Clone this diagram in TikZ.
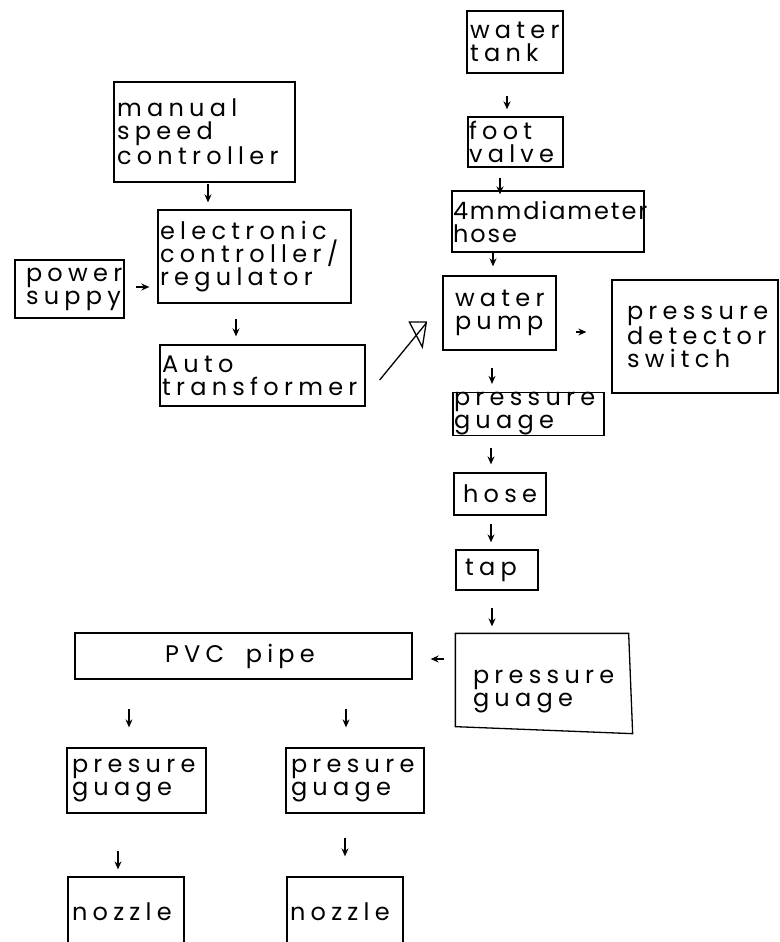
\documentclass[tikz,border=0pt]{standalone}
\usepackage{fontspec}
\newfontfamily\handfont[LetterSpace=22]{Poppins}
\usetikzlibrary{arrows.meta}
\hyphenpenalty=10000
\exhyphenpenalty=10000
\tikzset{
  blk/.style={draw, line width=1.3pt, rectangle, align=left, inner ysep=0pt,
    font=\handfont\fontsize{24}{23}\selectfont},
  arr/.style={line width=1.2pt, -{Stealth[length=8pt,width=7pt]}},
}
\begin{document}
\begin{tikzpicture}[x=1pt, y=-1pt]
  \useasboundingbox (0,0) rectangle (779,942);
  \fill[white] (0,0) rectangle (779,942);

  % supply side
  \node[blk, minimum width=181pt, minimum height=100pt, inner xsep=3pt, text width=175pt] (msc) at (204.5,132) {manual\\speed\\controller};
  \node[blk, minimum width=193pt, minimum height=93pt, inner xsep=2pt, text width=189pt] (ec) at (254.5,256.5) {electronic\\controller/\\regulator};
  \node[blk, minimum width=109pt, minimum height=58pt, inner xsep=11pt, text width=87pt] (ps) at (69.5,289) {power\\suppy};
  \node[blk, minimum width=205pt, minimum height=61pt, inner xsep=2pt, text width=201pt] (at) at (262.5,375.5) {Auto\\transformer};

  % water line
  \node[blk, minimum width=96pt, minimum height=62pt, inner xsep=3pt, text width=90pt] (tank) at (515,42) {water\\tank};
  \node[blk, minimum width=95pt, minimum height=50pt, inner xsep=1pt, text width=93pt] (fv) at (515.5,142) {foot\\valve};
  \node[blk, minimum width=192pt, minimum height=61pt, inner xsep=1pt, text width=190pt] (hd) at (548,221.5) {\addfontfeature{LetterSpace=8}4mmdiameter\\hose};
  \node[blk, minimum width=113pt, minimum height=74pt, inner xsep=12pt, text width=89pt] (pump) at (499.5,313) {water\\pump};
  \node[blk, minimum width=166pt, minimum height=113pt, inner xsep=15pt, text width=136pt] (pds) at (695,336.5) {pressure\\detector\\switch};
  \node[blk, minimum width=151pt, minimum height=42pt, inner xsep=1pt, text width=149pt] (pg) at (528.5,414) {pressure\\guage};
  \node[blk, minimum width=92pt, minimum height=42pt, inner xsep=9pt, text width=74pt] (hose) at (500,494) {hose};
  \node[blk, minimum width=82pt, minimum height=40pt, inner xsep=9pt, text width=64pt] (tap) at (497,570) {tap};
  \node[blk, draw=none, minimum width=176pt, minimum height=99pt, inner xsep=17pt, text width=142pt] (pgb) at (544,691.5) {pressure\\guage};
  \draw[line width=1.3pt] ([yshift=8pt]pgb.north west) -- ([xshift=-4pt,yshift=8pt]pgb.north east)
    -- ([yshift=8pt]pgb.south east) -- ([yshift=15pt]pgb.south west) -- cycle;

  % outlets
  \node[blk, minimum width=337pt, minimum height=46pt, inner xsep=90pt, text width=157pt] (pvc) at (243.5,656) {PVC\hspace{0.9em}pipe};
  \node[blk, minimum width=139pt, minimum height=65pt, inner xsep=5pt, text width=129pt] (pgl) at (136.5,780.5) {presure\\guage};
  \node[blk, minimum width=138pt, minimum height=65pt, inner xsep=5pt, text width=128pt] (pgr) at (355,780.5) {presure\\guage};
  \node[blk, minimum width=116pt, minimum height=70pt, inner xsep=4pt, text width=108pt] (nozl) at (126,912) {nozzle};
  \node[blk, minimum width=116pt, minimum height=70pt, inner xsep=3pt, text width=110pt] (nozr) at (345,912) {nozzle};

  \draw[arr] ([xshift=3.5pt,yshift=-1pt]msc.south) -- ([xshift=-46.5pt,yshift=7pt]ec.north);
  \draw[arr] ([xshift=11pt,yshift=2pt]ps.east) -- ([xshift=-8pt,yshift=-30.5pt]ec.west);
  \draw[arr] ([xshift=-18.5pt,yshift=-15pt]ec.south) -- ([xshift=-26.5pt,yshift=8pt]at.north);

  \coordinate (tipA) at ([xshift=-16pt,yshift=-10pt]pump.west);
  \draw[line width=1.3pt] ([xshift=14pt,yshift=-4.5pt]at.east) -- (tipA);
  \draw[line width=1.3pt] (tipA) ++(-17,-1) -- ++(17,0) -- ++(-4,25) -- cycle;

  \draw[arr] ([xshift=-8pt,yshift=-22pt]tank.south) -- ([xshift=-8.5pt,yshift=7pt]fv.north);
  \draw[arr] ([xshift=-15.5pt,yshift=-10pt]fv.south) -- ([xshift=-48pt,yshift=-4pt]hd.north);
  \draw[arr] ([xshift=-55pt]hd.south) -- ([xshift=-6.5pt,yshift=9pt]pump.north);
  \draw[arr] ([xshift=19pt,yshift=-19pt]pump.east) -- ([xshift=-25pt,yshift=4.5pt]pds.west);
  \draw[arr] ([xshift=-7.5pt,yshift=-17pt]pump.south) -- ([xshift=-36.5pt,yshift=8pt]pg.north);
  \draw[arr] ([xshift=-37.5pt,yshift=-12pt]pg.south) -- ([xshift=-9pt,yshift=8pt]hose.north);
  \draw[arr] ([xshift=-9pt,yshift=-8pt]hose.south) -- ([xshift=-6pt,yshift=7pt]tap.north);
  \draw[arr] ([xshift=-5pt,yshift=-17pt]tap.south) -- ([xshift=-52pt,yshift=15pt]pgb.north);
  \draw[arr] ([xshift=-11pt,yshift=32.5pt]pgb.west) -- ([xshift=18pt,yshift=-3pt]pvc.east);

  \draw[arr] ([xshift=-114.5pt,yshift=-29pt]pvc.south) -- ([xshift=-7.5pt,yshift=20pt]pgl.north);
  \draw[arr] ([xshift=102.5pt,yshift=-29pt]pvc.south) -- ([xshift=-9pt,yshift=20pt]pgr.north);
  \draw[arr] ([xshift=-18.5pt,yshift=-37pt]pgl.south) -- ([xshift=-8pt,yshift=7pt]nozl.north);
  \draw[arr] ([xshift=-10pt,yshift=-24pt]pgr.south) -- ([yshift=20pt]nozr.north);
\end{tikzpicture}
\end{document}
